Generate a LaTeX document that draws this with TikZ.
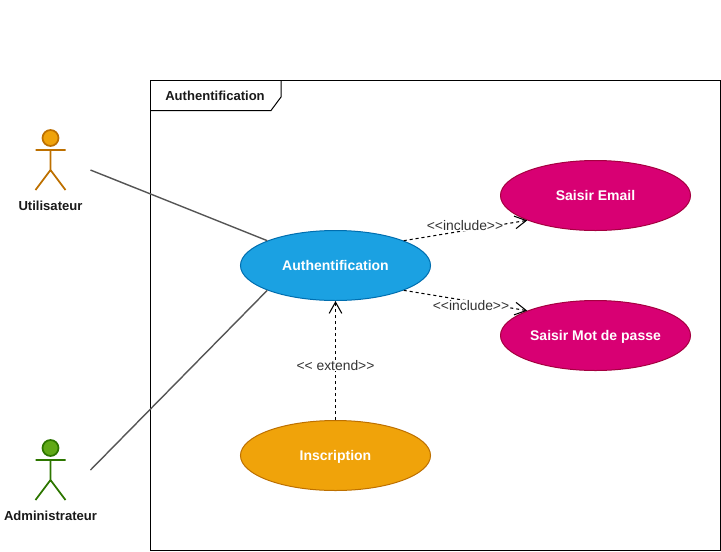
\documentclass[tikz,border=0pt]{standalone}
\usepackage{fontspec}
\setmainfont{Liberation Sans}
\usetikzlibrary{arrows.meta,shapes.geometric}
\definecolor{authfill}{HTML}{1BA1E2}
\definecolor{authline}{HTML}{006EAF}
\definecolor{saisirfill}{HTML}{D80073}
\definecolor{saisirline}{HTML}{A50040}
\definecolor{orangefill}{HTML}{F0A30A}
\definecolor{orangeline}{HTML}{BD7000}
\definecolor{greenfill}{HTML}{60A917}
\definecolor{greenline}{HTML}{2D7600}
\definecolor{assocline}{HTML}{555555}
\definecolor{labeltext}{HTML}{333333}
\tikzset{
  usecase/.style={ellipse, draw=#1line, fill=#1fill, line width=0.75pt, minimum width=142.5pt, minimum height=52.5pt, inner sep=0pt, text=white, text height=8.1pt, text depth=1.3pt, font=\fontsize{10.5}{12}\selectfont\bfseries},
  actorlabel/.style={font=\fontsize{9.8}{11}\selectfont\bfseries, text=black!90},
  assoc/.style={draw=assocline, line width=1.05pt},
  dep/.style={draw=black, line width=0.8pt, dash pattern=on 2.25pt off 2.25pt, -{Straight Barb[length=8.5pt,width=9.5pt]}},
  deplabel/.style={fill=white, inner sep=0.5pt, text=labeltext, font=\fontsize{10.4}{12}\selectfont},
  pics/actor/.style n args={2}{code={
    \draw[draw=#2, line width=1.3pt] (0,12) -- (0,32) (-15,12) -- (15,12) (-15,52) -- (0,32) -- (15,52);
    \draw[draw=#2, fill=#1, line width=1.3pt] (0,0) circle (6pt);
  }}
}
\begin{document}
\begin{tikzpicture}[x=0.75pt, y=-0.75pt]
  \useasboundingbox (0,0) rectangle (721,551);

  % Frame
  \draw[line width=0.75pt] (150.5,80.5) rectangle (720.5,550.5);
  \draw[line width=0.75pt] (150.5,110.5) -- (271,110.5) -- (281,97) -- (281,80.5);
  \node[font=\fontsize{9.8}{11}\selectfont\bfseries, text=black!90] (frametitle) at (215,95.5) {Authentification};

  % Use cases
  \node[usecase=auth] (auth) at (335.5,265.5) {Authentification};
  \node[usecase=saisir] (email) at (595.5,195.5) {Saisir Email};
  \node[usecase=saisir] (motdepasse) at (595.5,335.5) {Saisir Mot de passe};
  \node[usecase=orange] (inscription) at (335.5,455.5) {Inscription};

  % Actors
  \pic at (50.5,138) {actor={orangefill}{orangeline}};
  \node[actorlabel] (utilisateur) at (50.5,205.5) {Utilisateur};
  \pic at (50.5,448) {actor={greenfill}{greenline}};
  \node[actorlabel] (administrateur) at (50.5,515.5) {Administrateur};

  % Associations
  \coordinate (utilisateurend) at (90.5,170);
  \coordinate (administrateurend) at (90.5,470);
  \draw[assoc] (utilisateurend) -- (auth.160);
  \draw[assoc] (administrateurend) -- (auth.200);

  % Dependencies
  \draw[dep] (auth.20) -- (email.200);
  \draw[dep] (auth.340) -- (motdepasse.160);
  \draw[dep] (inscription) -- (auth);
  \node[deplabel] (include1) at (465,225.5) {<{}<include>{}>};
  \node[deplabel] (include2) at (471,305.5) {<{}<include>{}>};
  \node[deplabel] (extend) at (335.5,365.5) {<{}< extend>{}>};
\end{tikzpicture}
\end{document}
